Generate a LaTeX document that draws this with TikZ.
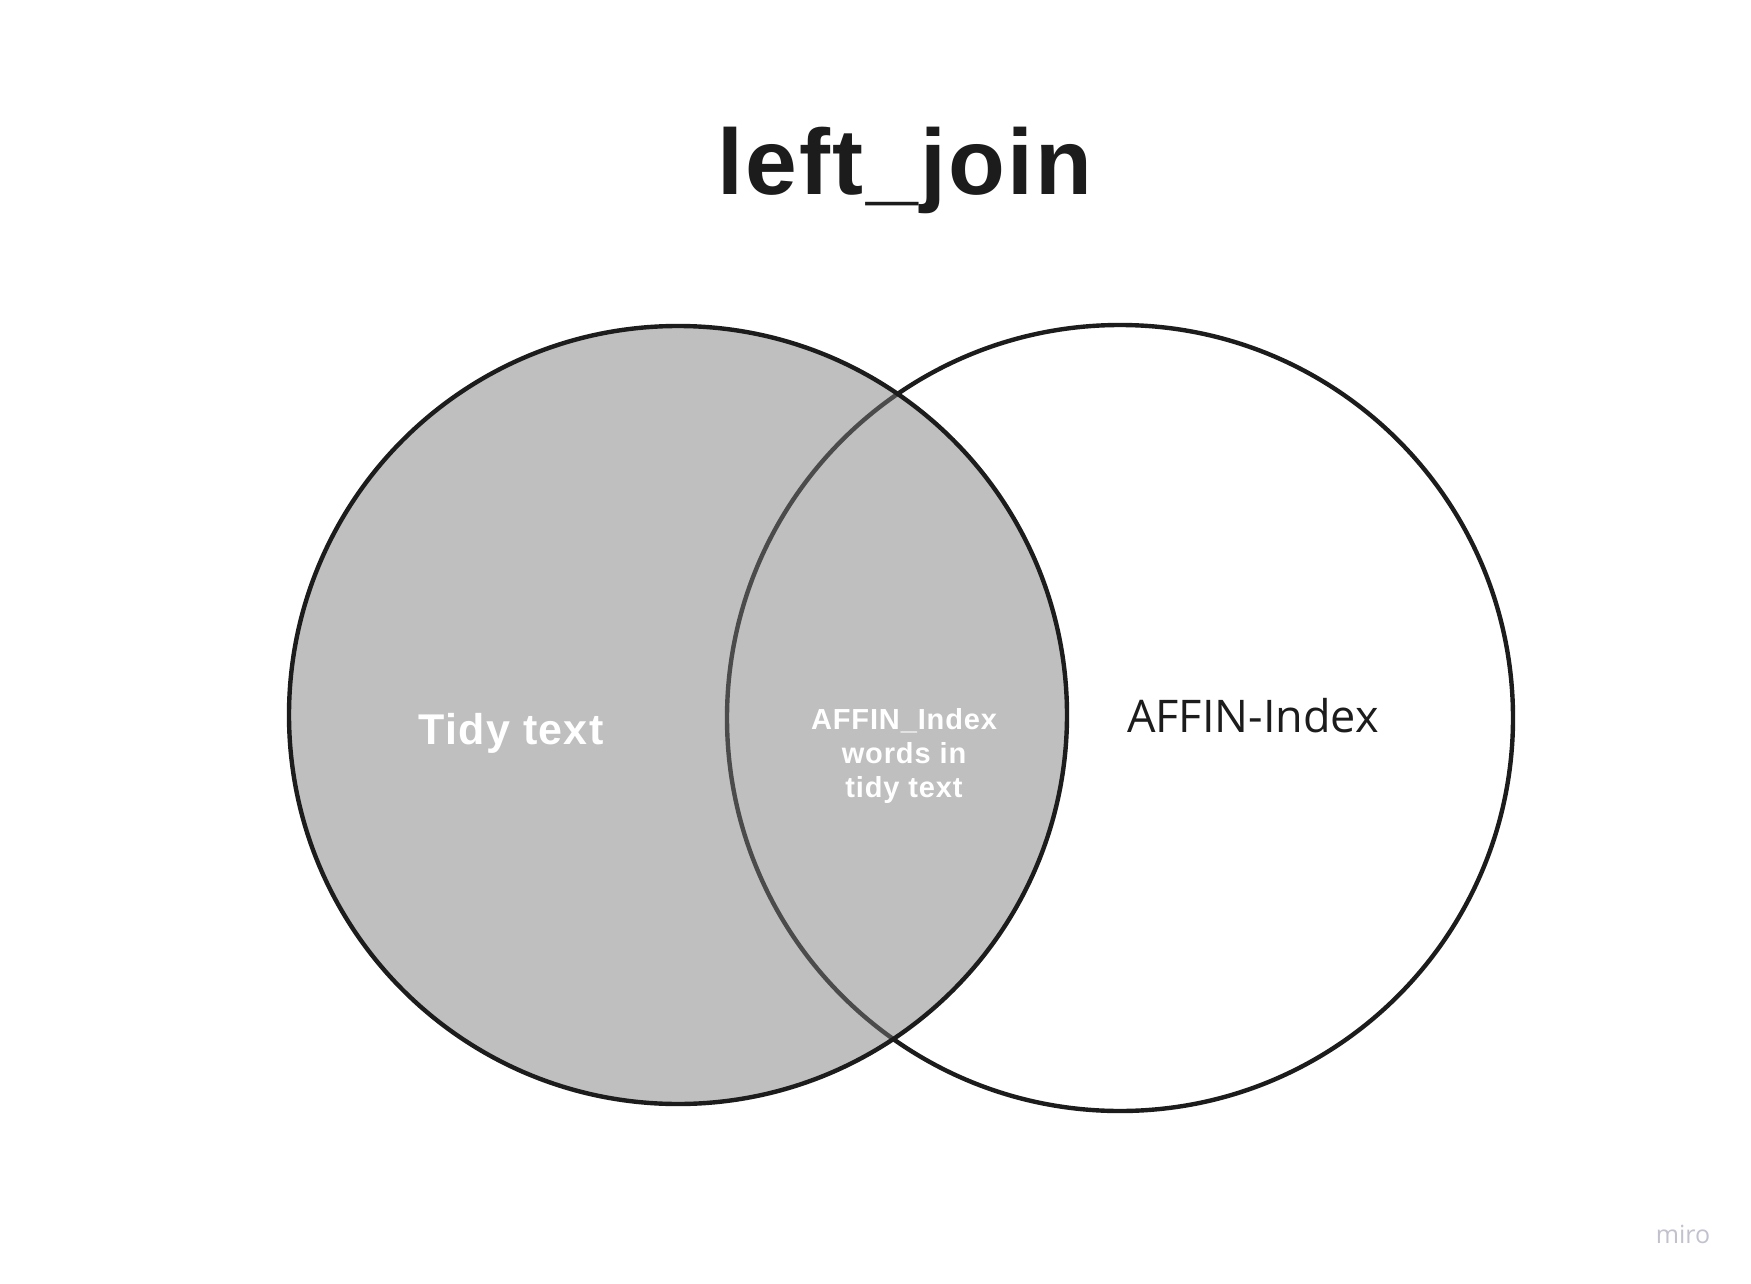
\documentclass[tikz,border=0pt]{standalone}
\usepackage{fontspec}
\setmainfont{Liberation Sans}
\newfontfamily\opensans{Open Sans}
\usetikzlibrary{positioning}
\definecolor{ringline}{HTML}{1C1C1C}
\definecolor{joinfill}{gray}{0.49}
\definecolor{logogray}{HTML}{C2C2CE}

\begin{document}
\begin{tikzpicture}[x=1pt, y=-1pt, line width=4.4pt,
    ring/.style = {draw=ringline, circle, inner sep=0pt},
    inside/.style = {text=white, font=\bfseries\fontsize{#1}{34}\selectfont\addfontfeature{LetterSpace=3}, align=center}]
            \useasboundingbox (0,0) rectangle (1751,1284);
            \fill[white] (0,0) rectangle (1751,1284);
            % right set first, the left set is laid over it
            \node[ring, fill=white, minimum size=786pt] (affin) at (1120,718) {};
            \node[ring, draw=none, fill=joinfill, fill opacity=0.49, minimum size=778pt] (tidy) at (678,715) {};
            \node[ring, minimum size=778pt] (tidyline) at (678,715) {};
            \node[font=\bfseries\fontsize{93}{110}\selectfont\addfontfeature{LetterSpace=2.5}, text=ringline, anchor=base] (title) at (905,195) {left\_join};
            \node[inside=43, anchor=base] (tidylabel) at (511,744) {Tidy text};
            \node[inside=29] (both) at (904,756) {AFFIN\_Index\\words in\\tidy text};
            \node[font=\opensans\fontsize{45}{54}\selectfont, text=ringline, anchor=base] (affinlabel) at (1253,732) {AFFIN-Index};
            \node[font=\opensans\fontsize{25}{30}\selectfont, text=logogray, anchor=base] (miro) at (1683,1243) {miro};
        \end{tikzpicture}
\end{document}
